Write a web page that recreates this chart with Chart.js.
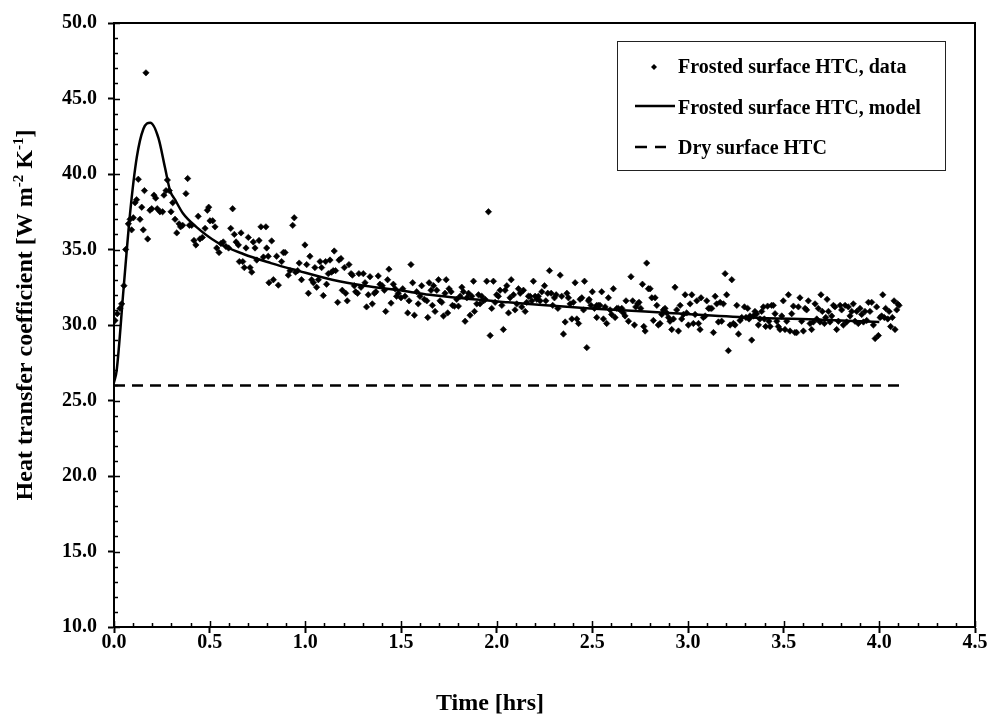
<!DOCTYPE html>
<html>
<head>
<meta charset="utf-8">
<script src="https://cdn.jsdelivr.net/npm/chart.js@4.4.0/dist/chart.umd.min.js"></script>
<style>
  html, body { margin: 0; padding: 0; background: #fff; }
  canvas { display: block; }
</style>
</head>
<body>
<canvas id="htcChart" width="993" height="717"></canvas>
<script>
// Measured HTC on the frosted surface [hrs, W m-2 K-1]
const frostTime = [
  0.005, 0.017, 0.031, 0.04, 0.052, 0.061, 0.075, 0.084, 0.092, 0.101,
  0.11, 0.118, 0.127, 0.136, 0.145, 0.153, 0.159, 0.167, 0.176, 0.188,
  0.197, 0.209, 0.218, 0.226, 0.24, 0.254, 0.261, 0.272, 0.279, 0.289,
  0.298, 0.307, 0.319, 0.328, 0.34, 0.348, 0.359, 0.376, 0.385, 0.394,
  0.406, 0.418, 0.428, 0.44, 0.449, 0.462, 0.476, 0.488, 0.495, 0.502,
  0.516, 0.528, 0.537, 0.549, 0.559, 0.571, 0.585, 0.599, 0.61, 0.62,
  0.629, 0.638, 0.65, 0.655, 0.664, 0.673, 0.681, 0.69, 0.702, 0.711,
  0.72, 0.728, 0.737, 0.746, 0.758, 0.768, 0.781,
  0.794, 0.798, 0.806, 0.81, 0.824, 0.833, 0.85, 0.859, 0.876, 0.885,
  0.894, 0.911, 0.92, 0.934, 0.942, 0.949, 0.96, 0.968, 0.98, 0.998,
  1.007, 1.016, 1.024, 1.033, 1.042, 1.05, 1.059, 1.068, 1.077, 1.085,
  1.094, 1.106, 1.111, 1.12, 1.129, 1.137, 1.146, 1.151, 1.158, 1.169,
  1.176, 1.186, 1.193, 1.204, 1.211, 1.219, 1.228, 1.239, 1.246, 1.256,
  1.263, 1.273, 1.28, 1.291, 1.303, 1.312, 1.32, 1.329, 1.338, 1.35,
  1.361, 1.369, 1.381, 1.39, 1.402, 1.413, 1.42, 1.43, 1.437, 1.448,
  1.46, 1.469, 1.477, 1.486, 1.5, 1.509, 1.521, 1.535, 1.542, 1.552,
  1.561, 1.57, 1.582, 1.59, 1.599, 1.608, 1.622,
  1.635, 1.64, 1.647, 1.657, 1.664, 1.67, 1.678, 1.687, 1.696, 1.704,
  1.713, 1.722, 1.73, 1.736, 1.744, 1.751, 1.762, 1.769, 1.779, 1.791,
  1.8, 1.809, 1.818, 1.826, 1.835, 1.844, 1.853, 1.861, 1.87, 1.879,
  1.884, 1.896, 1.905, 1.913, 1.922, 1.931, 1.94, 1.948, 1.957, 1.966,
  1.974, 1.983, 1.992, 2.0, 2.009, 2.018, 2.027, 2.035, 2.044, 2.053,
  2.062, 2.07, 2.076, 2.088, 2.096, 2.105, 2.114, 2.123, 2.131, 2.14,
  2.149, 2.157, 2.166, 2.175, 2.184, 2.192, 2.201, 2.21, 2.218, 2.227,
  2.236, 2.25, 2.257, 2.267, 2.276, 2.285, 2.293, 2.302, 2.311, 2.32,
  2.332, 2.34, 2.349, 2.358, 2.367, 2.375, 2.384, 2.393, 2.401, 2.41,
  2.419, 2.428, 2.436, 2.445, 2.454, 2.459, 2.471, 2.48,
  2.483, 2.493, 2.5, 2.511, 2.523, 2.523, 2.532, 2.54, 2.549, 2.558,
  2.567, 2.575, 2.584, 2.593, 2.601, 2.61, 2.619, 2.628, 2.636, 2.645,
  2.654, 2.662, 2.671, 2.676, 2.689, 2.702, 2.711, 2.72, 2.727, 2.737,
  2.744, 2.753, 2.762, 2.769, 2.776, 2.784, 2.793, 2.802, 2.811, 2.819,
  2.828, 2.837, 2.845, 2.854, 2.863, 2.871, 2.88, 2.889, 2.898, 2.906,
  2.915, 2.924, 2.932, 2.941, 2.95, 2.959, 2.967, 2.976, 2.985, 2.993,
  3.002, 3.011, 3.02, 3.028, 3.037, 3.046, 3.055, 3.063, 3.068, 3.08,
  3.09, 3.098, 3.107, 3.115, 3.124, 3.133, 3.142, 3.15, 3.159, 3.168,
  3.176, 3.185, 3.194, 3.202, 3.211, 3.22, 3.229, 3.237, 3.246, 3.255,
  3.264, 3.272, 3.281, 3.295,
  3.303, 3.312, 3.319, 3.324, 3.333, 3.342, 3.35, 3.359, 3.368, 3.376,
  3.385, 3.394, 3.399, 3.406, 3.416, 3.423, 3.429, 3.437, 3.446, 3.455,
  3.464, 3.472, 3.481, 3.49, 3.498, 3.507, 3.516, 3.525, 3.533, 3.542,
  3.551, 3.559, 3.568, 3.577, 3.585, 3.594, 3.603, 3.612, 3.62, 3.629,
  3.638, 3.646, 3.655, 3.664, 3.673, 3.681, 3.69, 3.695, 3.702, 3.713,
  3.72, 3.727, 3.734, 3.742, 3.751, 3.76, 3.768, 3.777, 3.786, 3.795,
  3.803, 3.812, 3.821, 3.829, 3.838, 3.847, 3.856, 3.864, 3.873, 3.882,
  3.89, 3.899, 3.908, 3.917, 3.925, 3.934, 3.943, 3.951, 3.96, 3.969,
  3.978, 3.986, 3.995, 4.004, 4.012, 4.018, 4.026, 4.033, 4.044, 4.051,
  4.059, 4.068, 4.077, 4.082, 4.091, 4.096, 4.103
];
const frostHtc = [
  30.3, 30.75, 31.1, 31.4, 32.6, 35.0, 36.7, 37.0, 36.3, 37.1,
  38.1, 38.3, 39.65, 37.0, 37.8, 36.3, 38.9, 46.7, 35.7, 37.6,
  37.7, 38.6, 38.4, 37.7, 37.5, 37.5, 38.6, 38.9, 39.6, 38.9,
  37.5, 38.1, 37.0, 36.1, 36.7, 36.5, 36.6, 38.7, 39.7, 36.6,
  36.6, 35.6, 35.3, 37.2, 35.7, 35.8, 36.4, 37.6, 37.8, 36.9,
  36.9, 36.5, 35.1, 34.8, 35.4, 35.5, 35.2, 35.1, 36.4, 37.7,
  36.0, 35.5, 35.3, 34.2, 36.1, 34.2, 33.8, 35.1, 35.8, 33.8,
  33.5, 35.5, 35.1, 34.3, 35.6, 36.5, 34.5,
  36.5, 35.1, 34.55, 32.8, 35.57, 33.0, 34.55, 32.64, 34.2, 34.8,
  34.8, 33.3, 33.6, 36.6, 37.1, 33.5, 33.6, 34.1, 33.0, 35.3,
  34.0, 32.1, 34.55, 33.0, 32.8, 33.8, 32.5, 33.0, 34.2, 33.8,
  31.95, 34.2, 32.7, 33.4, 34.3, 33.5, 33.6, 34.9, 33.6, 31.5,
  34.3, 34.4, 32.3, 33.8, 32.1, 31.6, 34.0, 33.4, 33.3, 32.6,
  32.2, 32.1, 33.4, 32.5, 33.4, 32.8, 31.2, 32.0, 33.2, 31.4,
  32.1, 32.2, 33.25, 32.7, 32.6, 32.3, 30.9, 33.0, 33.7, 31.45,
  32.7, 32.4, 31.9, 32.1, 31.8, 32.4, 31.9, 30.8, 31.6, 34.0,
  32.8, 30.65, 32.2, 31.4, 31.9, 32.6, 31.7,
  31.6, 30.5, 32.8, 32.3, 31.3, 32.6, 30.9, 32.3, 33.0, 31.6,
  31.5, 30.6, 32.1, 33.0, 30.8, 32.4, 32.2, 31.3, 31.25, 31.7,
  31.25, 31.9, 32.5, 32.2, 30.25, 31.8, 32.1, 30.65, 31.9, 32.9,
  30.9, 31.4, 32.0, 31.4, 31.9, 31.6, 31.7, 32.9, 37.5, 29.3,
  31.1, 32.9, 31.5, 32.0, 31.9, 32.3, 31.3, 29.7, 32.3, 32.6,
  30.8, 31.8, 33.0, 32.0, 31.0, 31.4, 32.4, 32.1, 31.2, 32.3,
  30.9, 31.5, 31.9, 31.9, 31.6, 32.9, 31.9, 31.7, 31.9, 31.6,
  32.2, 32.6, 31.6, 32.1, 33.6, 32.1, 31.3, 31.8, 32.0, 31.1,
  33.3, 31.9, 29.4, 30.2, 32.1, 31.8, 31.4, 30.4, 31.5, 32.8,
  30.4, 30.1, 31.7, 31.8, 31.0, 32.9, 28.5, 31.6,
  31.7, 31.3, 32.2, 31.1, 31.3, 30.5, 31.3, 31.3, 32.2, 30.4,
  31.2, 30.1, 31.8, 31.0, 30.7, 32.4, 30.5, 31.1, 31.1, 31.0,
  31.1, 30.8, 30.6, 31.6, 30.25, 33.2, 31.6, 30.0, 31.2, 31.4,
  31.5, 31.1, 32.7, 29.9, 29.6, 34.1, 32.4, 32.4, 31.8, 30.3,
  31.8, 31.3, 30.0, 30.1, 30.7, 31.0, 31.1, 30.8, 30.5, 30.25,
  29.7, 30.4, 32.5, 31.0, 29.6, 31.3, 30.4, 30.7, 32.0, 30.8,
  30.0, 31.4, 32.0, 30.1, 30.7, 31.6, 30.1, 29.7, 31.8, 30.5,
  30.6, 31.6, 31.1, 31.1, 31.1, 29.5, 31.9, 31.4, 30.2, 31.5,
  30.25, 31.4, 33.4, 32.0, 28.3, 30.0, 33.0, 30.1, 30.0, 31.3,
  29.4, 30.3, 30.5, 31.2,
  30.5, 31.1, 30.4, 30.6, 29.0, 30.6, 30.9, 30.75, 30.0, 30.4,
  30.9, 31.2, 30.4, 29.9, 31.25, 30.25, 29.9, 31.3, 31.3, 30.75,
  30.25, 29.9, 29.7, 30.6, 31.6, 29.7, 30.25, 32.0, 29.6, 30.75,
  31.25, 29.5, 29.5, 31.2, 31.8, 30.25, 29.6, 31.1, 31.0, 31.6,
  30.1, 29.7, 30.2, 31.4, 30.4, 31.1, 30.2, 32.0, 30.9, 30.1,
  30.5, 31.7, 30.9, 30.2, 30.6, 31.3, 31.2, 29.7, 30.25, 31.3,
  31.0, 30.0, 31.3, 30.2, 31.2, 30.6, 30.9, 31.4, 30.25, 30.9,
  30.1, 31.1, 30.7, 30.2, 30.9, 30.3, 31.5, 30.9, 31.5, 30.0,
  29.1, 31.2, 29.3, 30.5, 30.6, 32.0, 30.5, 31.1, 30.4, 30.9,
  29.9, 30.5, 31.6, 29.7, 31.0, 31.4, 31.3
];

// Model prediction for the frosted surface
const modelTime = [0, 0.014, 0.05, 0.084, 0.119, 0.154, 0.19, 0.232, 0.267, 0.293, 0.319, 0.36, 0.43,
  0.536, 0.676, 0.82, 0.96, 1.14, 1.31, 1.49, 1.65, 2.06, 2.49, 2.9, 3.32, 3.7, 4.0];
const modelHtc = [26.2, 27.0, 32.4, 37.4, 41.1, 43.0, 43.4, 42.4, 40.4, 38.9, 38.3, 37.4, 36.5,
  35.5, 34.7, 34.1, 33.6, 33.0, 32.6, 32.3, 32.0, 31.5, 31.1, 30.8, 30.5, 30.35, 30.2];

// Dry surface reference value
const dryTime = [0, 4.12];
const dryHtc = [26.0, 26.0];

const seriesLabels = ['Frosted surface HTC, data', 'Frosted surface HTC, model', 'Dry surface HTC'];

const SERIF = '"Liberation Serif", "Times New Roman", serif';
const toPoints = (xs, ys) => xs.map((x, i) => ({ x: x, y: ys[i] }));

// inside minor ticks + top/right frame
const frameTicks = {
  id: 'frameTicks',
  afterDraw(chart) {
    const { ctx, chartArea: a, scales: { x, y } } = chart;
    ctx.save();
    ctx.strokeStyle = '#000';
    ctx.lineWidth = 2;
    ctx.beginPath();
    ctx.moveTo(a.left, a.top);
    ctx.lineTo(a.right, a.top);
    ctx.lineTo(a.right, a.bottom);
    ctx.stroke();

    ctx.lineWidth = 1.5;
    ctx.beginPath();
    for (let i = 0; i <= 45; i++) {
      const px = Math.round(x.getPixelForValue(i / 10)) + 0.5;
      const len = i % 5 === 0 ? 6 : 4;
      ctx.moveTo(px, a.bottom);
      ctx.lineTo(px, a.bottom - len);
    }
    for (let v = 10; v <= 50; v++) {
      const py = Math.round(y.getPixelForValue(v)) + 0.5;
      const len = v % 5 === 0 ? 6 : 4;
      ctx.moveTo(a.left, py);
      ctx.lineTo(a.left + len, py);
    }
    ctx.stroke();
    ctx.restore();
  }
};

// axis titles (y title has superscripts)
const axisTitles = {
  id: 'axisTitles',
  afterDraw(chart) {
    const { ctx } = chart;
    ctx.save();
    ctx.fillStyle = '#000';
    ctx.textBaseline = 'alphabetic';

    ctx.font = 'bold 24px ' + SERIF;
    ctx.textAlign = 'center';
    ctx.fillText('Time [hrs]', 490, 710);

    const parts = [
      ['Heat transfer coefficient [W m', false],
      ['-2', true],
      [' K', false],
      ['-1', true],
      [']', false]
    ];
    const normal = 'bold 24px ' + SERIF;
    const sup = 'bold 15px ' + SERIF;
    let total = 0;
    parts.forEach(p => { ctx.font = p[1] ? sup : normal; total += ctx.measureText(p[0]).width; });
    ctx.translate(32, 315);
    ctx.rotate(-Math.PI / 2);
    ctx.textAlign = 'left';
    let cx = -total / 2;
    parts.forEach(p => {
      ctx.font = p[1] ? sup : normal;
      ctx.fillText(p[0], cx, p[1] ? -9 : 0);
      cx += ctx.measureText(p[0]).width;
    });
    ctx.restore();
  }
};

// boxed legend inside the plot
const boxLegend = {
  id: 'boxLegend',
  afterDraw(chart) {
    const { ctx } = chart;
    const ds = chart.data.datasets;
    ctx.save();
    ctx.fillStyle = '#fff';
    ctx.fillRect(617, 41, 328, 129);
    ctx.strokeStyle = '#222';
    ctx.lineWidth = 1;
    ctx.strokeRect(617.5, 41.5, 328, 129);

    ctx.fillStyle = '#000';
    ctx.strokeStyle = '#000';
    // marker
    ctx.beginPath();
    ctx.moveTo(654, 64); ctx.lineTo(657, 67); ctx.lineTo(654, 70); ctx.lineTo(651, 67);
    ctx.closePath();
    ctx.fill();
    // solid line
    ctx.lineWidth = ds[1].borderWidth;
    ctx.beginPath();
    ctx.moveTo(635, 106); ctx.lineTo(675, 106);
    ctx.stroke();
    // dashes
    ctx.lineWidth = ds[2].borderWidth;
    ctx.beginPath();
    ctx.moveTo(635, 147); ctx.lineTo(647, 147);
    ctx.moveTo(655, 147); ctx.lineTo(666, 147);
    ctx.stroke();

    ctx.font = 'bold 20px ' + SERIF;
    ctx.textAlign = 'left';
    ctx.textBaseline = 'alphabetic';
    ctx.fillText(ds[0].label, 678, 73);
    ctx.fillText(ds[1].label, 678, 114);
    ctx.fillText(ds[2].label, 678, 154);
    ctx.restore();
  }
};

const tickFont = { family: SERIF, size: 20, weight: 'bold' };

new Chart(document.getElementById('htcChart'), {
  type: 'scatter',
  data: {
    datasets: [{
      label: seriesLabels[0],
      data: toPoints(frostTime, frostHtc),
      pointStyle: 'rectRot',
      pointRadius: 3.2,
      pointBorderWidth: 0.6,
      backgroundColor: '#000',
      borderColor: '#000',
      showLine: false
    }, {
      type: 'line',
      label: seriesLabels[1],
      data: toPoints(modelTime, modelHtc),
      borderColor: '#000',
      borderWidth: 2.5,
      pointRadius: 0,
      cubicInterpolationMode: 'monotone',
      fill: false
    }, {
      type: 'line',
      label: seriesLabels[2],
      data: toPoints(dryTime, dryHtc),
      borderColor: '#000',
      borderWidth: 2.5,
      borderDash: [11, 7],
      pointRadius: 0,
      fill: false
    }]
  },
  options: {
    responsive: false,
    animation: false,
    devicePixelRatio: 1,
    layout: { padding: { top: 13, right: 18, left: 0, bottom: 0 } },
    plugins: {
      legend: { display: false },
      tooltip: { enabled: false }
    },
    scales: {
      x: {
        type: 'linear',
        min: 0,
        max: 4.5,
        afterFit: s => { s.height = 90; },
        border: { color: '#000', width: 2 },
        grid: { drawOnChartArea: false, drawTicks: true, tickLength: 6, tickColor: '#000', tickWidth: 2 },
        ticks: {
          stepSize: 0.5,
          color: '#000',
          font: tickFont,
          padding: -2,
          maxRotation: 0,
          callback: v => v.toFixed(1)
        }
      },
      y: {
        min: 10,
        max: 50,
        afterFit: s => { s.width = 114; },
        border: { color: '#000', width: 2 },
        grid: { drawOnChartArea: false, drawTicks: true, tickLength: 6, tickColor: '#000', tickWidth: 2 },
        ticks: {
          stepSize: 5,
          color: '#000',
          font: tickFont,
          padding: 11,
          callback: v => v.toFixed(1)
        }
      }
    }
  },
  plugins: [frameTicks, axisTitles, boxLegend]
});
</script>
</body>
</html>
